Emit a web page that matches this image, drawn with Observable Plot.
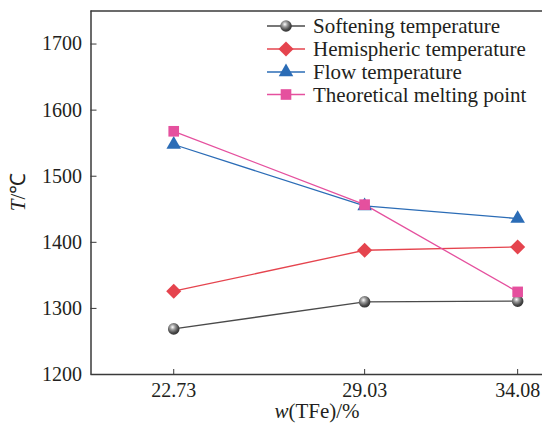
<!DOCTYPE html>
<html>
<head>
<meta charset="utf-8">
<script src="https://cdn.jsdelivr.net/npm/d3@7"></script>
<script src="https://cdn.jsdelivr.net/npm/@observablehq/plot@0.6"></script>
<style>
  html, body { margin: 0; padding: 0; background: #fff; }
  #chart { position: relative; width: 542px; height: 424px; }
  #chart svg, #chart svg text { font-family: 'Liberation Serif', 'Times New Roman', serif !important; }
</style>
</head>
<body>
<div id="chart"></div>
<script>
// ---- data ----
const tfe = [22.73, 29.03, 34.08];
const softening = [1269, 1310, 1311];
const hemispheric = [1326, 1388, 1393];
const flow = [1548, 1455, 1436];
const theoretical = [1568, 1457, 1325];
const seriesNames = ["Softening temperature", "Hemispheric temperature", "Flow temperature", "Theoretical melting point"];
const yTicks = [1200, 1300, 1400, 1500, 1600, 1700];

const seriesStyle = [
  {values: softening,   stroke: "#4a4a4a", fill: "url(#ball)", symbol: "circle",   r: 5.8},
  {values: hemispheric, stroke: "#e5444e", fill: "#e5444e",   symbol: "diamond2", r: 6.8},
  {values: flow,        stroke: "#2b6cb6", fill: "#2b6cb6",   symbol: "triangle", r: 5.4},
  {values: theoretical, stroke: "#e5509e", fill: "#e5509e",   symbol: "square",   r: 6.0}
];

const rows = [];
seriesStyle.forEach((s, i) => tfe.forEach((x, j) => rows.push({series: seriesNames[i], x, y: s.values[j], i})));

const font = "Liberation Serif";
const axisColor = "#3a3a3a";

const marks = [
  Plot.ruleY([1750], {stroke: axisColor, strokeWidth: 1.5}),
  Plot.ruleY([1200], {stroke: axisColor, strokeWidth: 1.5}),
  Plot.ruleX([20], {stroke: axisColor, strokeWidth: 1.5}),
  Plot.axisY({ticks: yTicks, tickSize: -6, tickPadding: 15, tickFormat: d => String(d), label: null, fontSize: 20, fontFamily: font, stroke: axisColor, color: "#231f20"}),
  Plot.axisX({ticks: tfe, tickSize: -5, tickPadding: 13, tickFormat: d => d.toFixed(2), label: null, fontSize: 20, fontFamily: font, stroke: axisColor, color: "#231f20"})
];
seriesStyle.forEach((s, i) => {
  const d = rows.filter(r => r.i === i);
  marks.push(Plot.line(d, {x: "x", y: "y", stroke: s.stroke, strokeWidth: 1.3}));
});
seriesStyle.forEach((s, i) => {
  const d = rows.filter(r => r.i === i);
  marks.push(Plot.dot(d, {x: "x", y: "y", symbol: () => s.symbol, fill: s.fill, stroke: "none", r: s.r}));
});

const chart = Plot.plot({
  width: 542,
  height: 424,
  marginLeft: 90.5,
  marginRight: 0,
  marginTop: 10.5,
  marginBottom: 50,
  style: {background: "#fff", overflow: "visible"},
  x: {domain: [20, 34.9]},
  y: {domain: [1200, 1750]},
  symbol: {type: "identity"},
  marks
});

const svg = d3.select(chart);
svg.attr("font-family", font);
// gradient for the sphere markers
const defs = svg.insert("defs", ":first-child");
const g = defs.append("radialGradient").attr("id", "ball").attr("cx", "40%").attr("cy", "35%").attr("r", "65%");
g.append("stop").attr("offset", "0%").attr("stop-color", "#ffffff");
g.append("stop").attr("offset", "35%").attr("stop-color", "#9a9a9a");
g.append("stop").attr("offset", "75%").attr("stop-color", "#4a4a4a");
g.append("stop").attr("offset", "100%").attr("stop-color", "#333333");

// axis labels
const xl = svg.append("text").attr("x", 317).attr("y", 418).attr("text-anchor", "middle")
  .attr("font-family", font).attr("font-size", 21).attr("fill", "#231f20");
xl.append("tspan").attr("font-style", "italic").text("w");
xl.append("tspan").text("(TFe)/%");

const yl = svg.append("text").attr("transform", "translate(24.5,192) rotate(-90)").attr("text-anchor", "middle")
  .attr("font-family", font).attr("font-size", 21).attr("fill", "#231f20");
yl.append("tspan").attr("font-style", "italic").text("T");
yl.append("tspan").text("/℃");

// legend
const legend = svg.append("g").attr("text-anchor", "start");
const rowY = [26, 49, 72, 94.5];
const symbolMap = {circle: d3.symbolCircle, diamond2: d3.symbolDiamond2, triangle: d3.symbolTriangle, square: d3.symbolSquare};
seriesStyle.forEach((s, i) => {
  const y = rowY[i];
  legend.append("line").attr("x1", 267).attr("x2", 305).attr("y1", y).attr("y2", y)
    .attr("stroke", s.stroke).attr("stroke-width", 1.3);
  legend.append("path").attr("transform", `translate(286,${y})`)
    .attr("d", d3.symbol(symbolMap[s.symbol], Math.PI * s.r * s.r)())
    .attr("fill", s.fill);
  legend.append("text").attr("x", 313).attr("y", y + 7).attr("text-anchor", "start")
    .attr("font-family", font).attr("font-size", 21)
    .attr("fill", "#231f20").text(seriesNames[i]);
});

document.getElementById("chart").appendChild(chart);
</script>
</body>
</html>
